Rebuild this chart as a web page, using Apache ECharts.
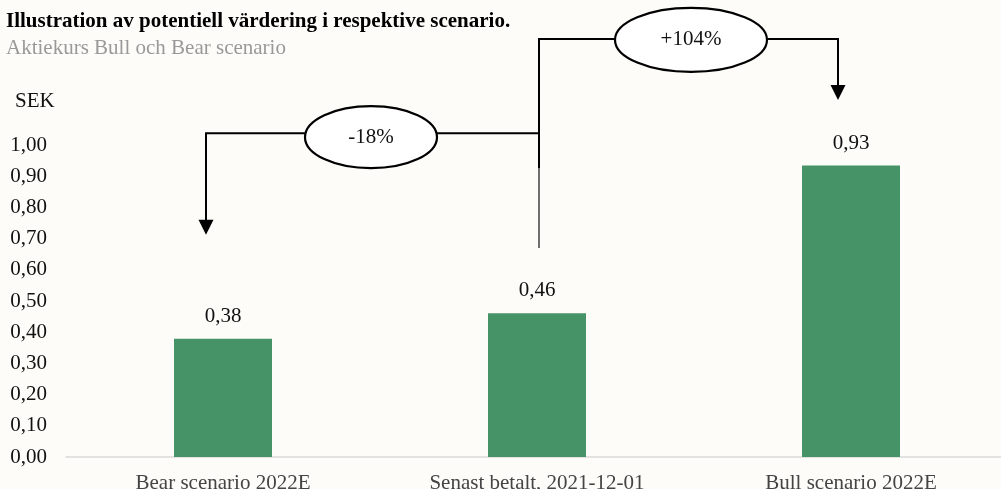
<!DOCTYPE html>
<html><head><meta charset="utf-8">
<script src="https://cdn.jsdelivr.net/npm/echarts@6/dist/echarts.min.js"></script>
<style>html,body{margin:0;padding:0;background:#fdfcf8;}#c{width:1001px;height:489px;}</style>
</head><body><div id="c"></div>
<script>
const categories = ['Bear scenario 2022E', 'Senast betalt, 2021-12-01', 'Bull scenario 2022E'];
const values = [0.379, 0.461, 0.934];
const changeLabels = ['-18%', '+104%'];
const yTicks = [0, 0.1, 0.2, 0.3, 0.4, 0.5, 0.6, 0.7, 0.8, 0.9, 1.0];

const fmt = v => v.toFixed(2).replace('.', ',');
const serif = '"Liberation Serif", "DejaVu Serif", serif';
const FS = 21;
const chart = echarts.init(document.getElementById('c'));
chart.setOption({
  backgroundColor: '#fdfcf8',
  animation: false,
  title: [
    {text: 'Illustration av potentiell värdering i respektive scenario.', left: 1, top: 6,
     textStyle: {fontFamily: serif, fontWeight: 'bold', fontSize: FS, color: '#000'}},
    {text: 'Aktiekurs Bull och Bear scenario', left: 1, top: 33,
     textStyle: {fontFamily: serif, fontWeight: 'normal', fontSize: FS, color: '#999'}},
    {text: 'SEK', left: 10, top: 86,
     textStyle: {fontFamily: serif, fontWeight: 'normal', fontSize: FS, color: '#111'}}
  ],
  grid: {left: 66, top: 145, width: 942, height: 312, containLabel: false, outerBoundsMode: 'none'},
  xAxis: {
    type: 'category', data: categories,
    axisLine: {lineStyle: {color: '#d9d9d9', width: 1.5}},
    axisTick: {show: false},
    axisLabel: {fontFamily: serif, fontSize: FS, color: '#444', margin: 16}
  },
  yAxis: {
    type: 'value', min: 0, max: 1, interval: 0.1,
    splitLine: {show: false},
    axisLine: {show: false}, axisTick: {show: false},
    axisLabel: {fontFamily: serif, fontSize: FS, color: '#111', margin: 19, formatter: v => fmt(v)}
  },
  series: [{
    type: 'bar', data: values, barWidth: 98,
    itemStyle: {color: '#459366'},
    label: {show: true, position: 'top', distance: 12, fontFamily: serif, fontSize: FS, color: '#111',
            formatter: p => fmt(p.value)}
  }]
});

function P(i, v) { return chart.convertToPixel({gridIndex: 0}, [i, v]); }
const mid = P(1, 0)[0] + 2;
const left = P(0, 0)[0] - 17;
const right = P(2, 0)[0] - 13;
const yA = P(0, 1.038)[1];      // -18% bracket level
const yB = P(0, 1.34)[1];       // +104% bracket level
const yMidBottom = P(0, 0.67)[1];
const yMidThick = P(0, 0.926)[1];
const yTipL = P(0, 0.712)[1];
const yTipR = P(0, 1.144)[1];
const ls = {stroke: '#000', lineWidth: 2, fill: null};
function arrow(x, yTip) {
  return {type: 'polygon', shape: {points: [[x - 7.5, yTip - 15], [x + 7.5, yTip - 15], [x, yTip]]}, style: {fill: '#000'}};
}
const g = [
  {type: 'line', shape: {x1: mid, y1: yMidBottom, x2: mid, y2: yMidThick}, style: {stroke: '#222', lineWidth: 1.3}},
  {type: 'polyline', shape: {points: [[mid, yMidThick], [mid, yB], [right, yB], [right, yTipR - 12]]}, style: ls},
  {type: 'polyline', shape: {points: [[mid, yA], [left, yA], [left, yTipL - 12]]}, style: ls},
  arrow(left, yTipL), arrow(right, yTipR),
  {type: 'ellipse', shape: {cx: 371, cy: yA + 4, rx: 66, ry: 31},
   style: {fill: '#fff', stroke: '#000', lineWidth: 2.2}},
  {type: 'text', x: 371, y: yA + 4, style: {text: changeLabels[0], font: FS + 'px ' + serif, fill: '#111', align: 'center', verticalAlign: 'middle'}},
  {type: 'ellipse', shape: {cx: 691, cy: yB + 1, rx: 76, ry: 32},
   style: {fill: '#fff', stroke: '#000', lineWidth: 2.2}},
  {type: 'text', x: 691, y: yB + 1, style: {text: changeLabels[1], font: FS + 'px ' + serif, fill: '#111', align: 'center', verticalAlign: 'middle'}}
];
chart.setOption({graphic: g});
</script></body></html>
